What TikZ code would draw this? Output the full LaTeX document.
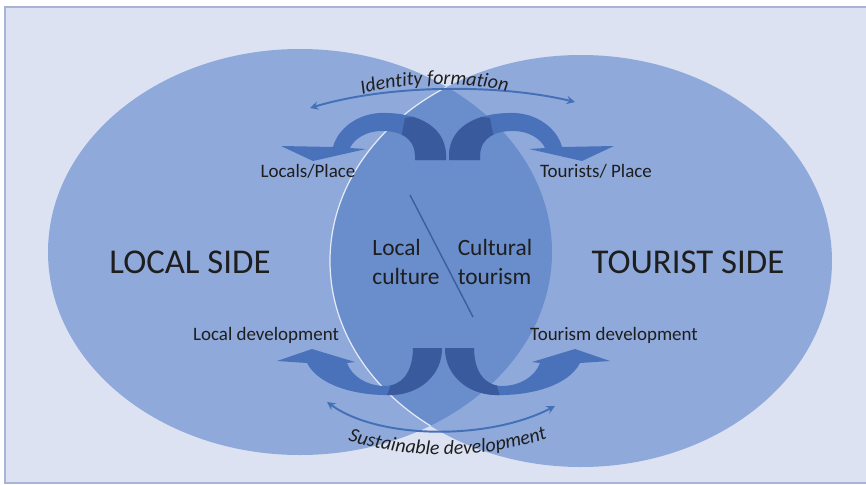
\documentclass[tikz,border=0pt]{standalone}
\usepackage{fontspec}
\setmainfont{Carlito}
\usetikzlibrary{decorations.text}

\definecolor{panelbg}{HTML}{DCE2F2}
\definecolor{panelrule}{HTML}{A7B4D8}
\definecolor{sidefill}{HTML}{8FA9DB}
\definecolor{overlapfill}{HTML}{6A8DCC}
\definecolor{flowlight}{HTML}{4A72BB}
\definecolor{flowdark}{HTML}{3A5A9E}
\definecolor{inkblue}{HTML}{4470B8}
\definecolor{labelink}{HTML}{1E1E1E}

\begin{document}
\begin{tikzpicture}[
    x=0.02cm, y=-0.02cm,
    >=stealth,
    sidelabel/.style={
        font=\fontsize{19.8}{24}\selectfont,
        text=labelink,
        inner sep=0pt
    },
    flowlabel/.style={
        font=\fontsize{10.8}{13}\selectfont,
        text=labelink,
        inner sep=0pt
    },
    corelabel/.style={
        font=\fontsize{13.3}{16}\selectfont,
        text=labelink,
        align=left,
        inner sep=0pt
    },
    flowline/.style={draw=inkblue, line width=1.1pt, <->},
    curvedtext/.style={
        decorate,
        decoration={text along path, text align=center, text color=labelink,
            text={|\itshape\fontsize{11.3}{13}\selectfont|#1}}
    }
]
    \useasboundingbox (0,0) rectangle (866,484);

    % Background panel
    \fill[white] (0,0) rectangle (866,484);
    \filldraw[fill=panelbg, draw=panelrule, line width=1pt] (5,7) rectangle (872,483);

    % The two sides and their overlap
    \fill[sidefill] (300,252) ellipse [x radius=252, y radius=203];
    \fill[sidefill] (581,261) ellipse [x radius=251, y radius=206];
    \begin{scope}
        \clip (300,252) ellipse [x radius=252, y radius=203];
        \fill[overlapfill] (581,261) ellipse [x radius=251, y radius=206];
        \draw[white, opacity=0.8, line width=0.7pt] (581,261) ellipse [x radius=251, y radius=206];
    \end{scope}

    % Big arrows out of the top of the overlap (left one, then mirrored)
    \foreach \flip/\axis in {1/0, -1/895} {
        \begin{scope}[shift={(\axis,0)}, xscale=\flip]
            \clip (415,160) -- (415,155)
                .. controls (414,136) and (398,131) .. (382,131)
                .. controls (366,131) and (354,139) .. (350,148)
                -- (366,149) -- (313,161) -- (281,146) -- (333,147)
                .. controls (338,128) and (358,114) .. (380,113)
                .. controls (410,112) and (445,122) .. (446,155)
                -- (446,160) -- cycle;
            \fill[flowlight] (270,100) rectangle (460,170);
            \fill[flowdark] (395,170) -- (405,118) -- (460,110) -- (460,170) -- cycle;
        \end{scope}
    }

    % Big arrows out of the bottom of the overlap
    \foreach \flip/\axis in {1/0, -1/887} {
        \begin{scope}[shift={(\axis,0)}, xscale=\flip]
            \clip (413,348)
                .. controls (413,372) and (402,386) .. (385,386)
                .. controls (368,386) and (352,377) .. (347,363)
                -- (355,362) -- (312,349) -- (277,361) -- (307,363)
                .. controls (318,385) and (355,396) .. (392,395)
                .. controls (420,394) and (442,375) .. (442,348) -- cycle;
            \fill[flowlight] (270,340) rectangle (450,400);
            \fill[flowdark] (385,402) -- (405,340) -- (450,340) -- (450,402) -- cycle;
        \end{scope}
    }

    % Thin arcs
    \coordinate (idL) at (310,108);
    \coordinate (idR) at (575,102);
    \draw[flowline] (idL) .. controls (390,84) and (500,84) .. (idR);
    \coordinate (sdL) at (327,402);
    \coordinate (sdR) at (555,406);
    \draw[flowline] (sdL) .. controls (380,440) and (490,440) .. (sdR);

    \path[curvedtext={Identity formation}] (330,105) .. controls (395,78) and (475,78) .. (540,100);
    \path[curvedtext={Sustainable development}] (330,434) .. controls (400,462) and (490,462) .. (565,432);

    % Divider in the overlap
    \coordinate (divTop) at (410,195);
    \coordinate (divBot) at (473,317);
    \draw[inkblue!85!black, line width=0.8pt] (divTop) -- (divBot);

    % Labels
    \node[sidelabel, anchor=base] (localside) at (190,273) {LOCAL SIDE};
    \node[sidelabel, anchor=base] (touristside) at (688,273) {TOURIST SIDE};

    \node[flowlabel] (localsplace) at (308,171) {Locals/Place};
    \node[flowlabel] (touristsplace) at (596,171) {Tourists/ Place};
    \node[flowlabel] (localdev) at (266,335) {Local development};
    \node[flowlabel] (tourismdev) at (614,335) {Tourism development};

    \node[corelabel] (localculture) at (406,262) {Local\\culture};
    \node[corelabel] (culturaltourism) at (495,262) {Cultural\\tourism};

\end{tikzpicture}
\end{document}
